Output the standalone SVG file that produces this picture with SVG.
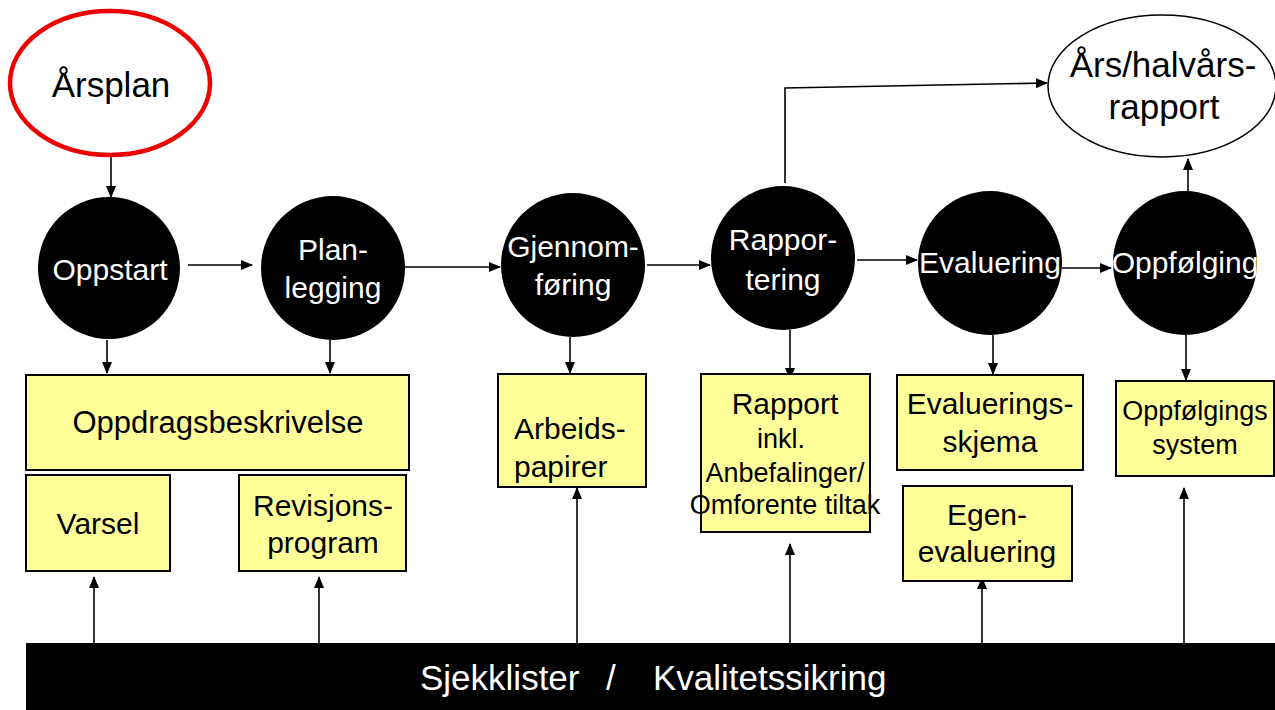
<svg xmlns="http://www.w3.org/2000/svg" width="1275" height="710" viewBox="0 0 1275 710">
  <defs>
    <marker id="arrow" markerUnits="userSpaceOnUse" markerWidth="12" markerHeight="10" refX="11" refY="5" orient="auto">
      <path d="M0,0 L12,5 L0,10 Z" fill="#000"/>
    </marker>
    <style>
      text { font-family: "Liberation Sans", Arial, sans-serif; text-anchor: middle; }
      .step { fill: #000; }
      .step-label { fill: #fff; font-size: 30px; }
      .doc { fill: #ffff99; stroke: #000; stroke-width: 2; }
      .doc-label { fill: #000; font-size: 30px; }
      .small { font-size: 27px; }
      .link { fill: none; stroke: #000; stroke-width: 1.6; marker-end: url(#arrow); }
    </style>
  </defs>
  <rect width="1275" height="710" fill="#fff"/>

  <!-- connectors -->
  <g id="connectors">
    <line class="link" x1="111" y1="155" x2="111" y2="197"/>
    <line class="link" x1="188" y1="265" x2="252" y2="265"/>
    <line class="link" x1="405" y1="267" x2="500" y2="267"/>
    <line class="link" x1="647" y1="265" x2="710" y2="265"/>
    <line class="link" x1="857" y1="260" x2="917" y2="260"/>
    <line class="link" x1="1062" y1="268" x2="1111" y2="268"/>
    <polyline class="link" points="785,183 785,88 1047,83"/>
    <line class="link" x1="1188" y1="191" x2="1188" y2="159"/>
    <!-- steps down to documents -->
    <line class="link" x1="107" y1="340" x2="107" y2="373"/>
    <line class="link" x1="330" y1="340" x2="330" y2="373"/>
    <line class="link" x1="570" y1="337" x2="570" y2="373"/>
    <line class="link" x1="790" y1="330" x2="790" y2="379"/>
    <line class="link" x1="993" y1="335" x2="993" y2="374"/>
    <line class="link" x1="1186" y1="335" x2="1186" y2="380"/>
    <!-- quality base up to documents -->
    <line class="link" x1="94" y1="643" x2="94" y2="577"/>
    <line class="link" x1="319" y1="643" x2="319" y2="577"/>
    <line class="link" x1="577" y1="643" x2="577" y2="488"/>
    <line class="link" x1="790" y1="643" x2="790" y2="544"/>
    <line class="link" x1="982" y1="643" x2="982" y2="578"/>
    <line class="link" x1="1184" y1="643" x2="1184" y2="488"/>
  </g>

  <!-- plans and reports -->
  <g id="arsplan">
    <ellipse cx="110" cy="83" rx="100" ry="72" fill="#fff" stroke="#e00" stroke-width="4.5"/>
    <text x="111" y="97" style="font-size:35px">Årsplan</text>
  </g>
  <g id="arsrapport">
    <ellipse cx="1162" cy="86" rx="114" ry="71" fill="#fff" stroke="#000" stroke-width="1.5"/>
    <text x="1163" y="77" style="font-size:35px">Års/halvårs-</text>
    <text x="1164" y="119" style="font-size:35px">rapport</text>
  </g>

  <!-- process steps -->
  <g id="oppstart">
    <circle class="step" cx="109" cy="268" r="71"/>
    <text class="step-label" x="110" y="280">Oppstart</text>
  </g>
  <g id="planlegging">
    <circle class="step" cx="333" cy="268" r="72"/>
    <text class="step-label" x="333" y="260">Plan-</text>
    <text class="step-label" x="333" y="298">legging</text>
  </g>
  <g id="gjennomforing">
    <circle class="step" cx="573" cy="265" r="72"/>
    <text class="step-label" x="573" y="257">Gjennom-</text>
    <text class="step-label" x="573" y="295">føring</text>
  </g>
  <g id="rapportering">
    <circle class="step" cx="783" cy="258" r="72"/>
    <text class="step-label" x="783" y="250">Rappor-</text>
    <text class="step-label" x="783" y="290">tering</text>
  </g>
  <g id="evaluering">
    <circle class="step" cx="990" cy="263" r="72"/>
    <text class="step-label" x="990" y="273">Evaluering</text>
  </g>
  <g id="oppfolging">
    <circle class="step" cx="1185" cy="263" r="72"/>
    <text class="step-label" x="1185" y="273">Oppfølging</text>
  </g>

  <!-- documents -->
  <g id="oppdragsbeskrivelse">
    <rect class="doc" x="26" y="375" width="383" height="95"/>
    <text class="doc-label" x="218" y="433" style="font-size:31px">Oppdragsbeskrivelse</text>
  </g>
  <g id="varsel">
    <rect class="doc" x="26" y="475" width="144" height="96"/>
    <text class="doc-label" x="98" y="534">Varsel</text>
  </g>
  <g id="revisjonsprogram">
    <rect class="doc" x="239" y="475" width="167" height="96"/>
    <text class="doc-label" x="323" y="516">Revisjons-</text>
    <text class="doc-label" x="323" y="553">program</text>
  </g>
  <g id="arbeidspapirer">
    <rect class="doc" x="498" y="374" width="148" height="113"/>
    <text class="doc-label" x="514" y="439" style="text-anchor:start">Arbeids-</text>
    <text class="doc-label" x="514" y="477" style="text-anchor:start">papirer</text>
  </g>
  <g id="rapport">
    <rect class="doc" x="701" y="374" width="169" height="158"/>
    <text class="doc-label" x="785" y="414">Rapport</text>
    <text class="doc-label small" x="781" y="448">inkl.</text>
    <text class="doc-label small" x="785" y="482">Anbefalinger/</text>
    <text class="doc-label small" x="785" y="514">Omforente tiltak</text>
  </g>
  <g id="evalueringsskjema">
    <rect class="doc" x="897" y="375" width="186" height="95"/>
    <text class="doc-label" x="990" y="414">Evaluerings-</text>
    <text class="doc-label" x="990" y="452">skjema</text>
  </g>
  <g id="egenevaluering">
    <rect class="doc" x="903" y="486" width="169" height="95"/>
    <text class="doc-label" x="987" y="525">Egen-</text>
    <text class="doc-label" x="987" y="562">evaluering</text>
  </g>
  <g id="oppfolgingssystem">
    <rect class="doc" x="1116" y="381" width="158" height="95"/>
    <text class="doc-label small" x="1195" y="420">Oppfølgings</text>
    <text class="doc-label small" x="1195" y="454">system</text>
  </g>

  <!-- quality base -->
  <g id="sjekklister">
    <rect x="26" y="643" width="1249" height="67" fill="#000"/>
    <text y="690" style="fill:#fff;font-size:35px;text-anchor:start"><tspan x="420">Sjekklister</tspan><tspan x="606">/</tspan><tspan x="653">Kvalitetssikring</tspan></text>
  </g>
</svg>
